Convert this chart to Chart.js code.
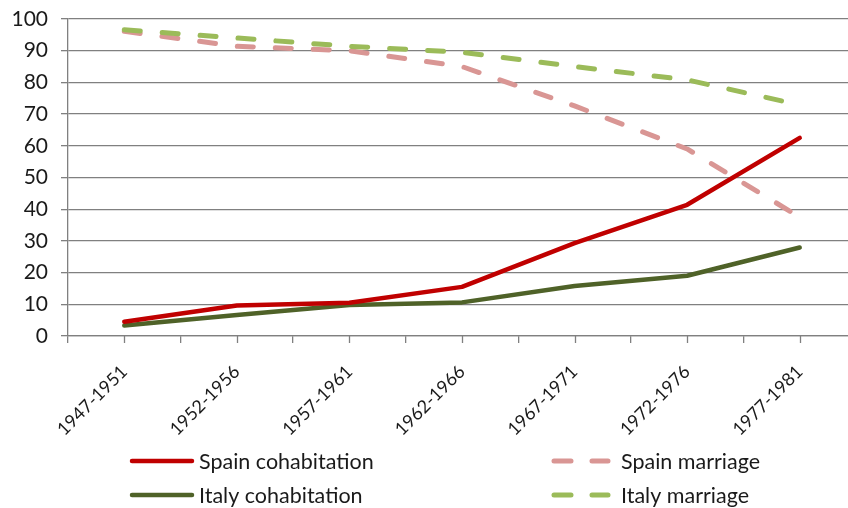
<!DOCTYPE html>
<html>
<head>
<meta charset="utf-8">
<title>Cohabitation and marriage by birth cohort</title>
<script src="https://cdn.jsdelivr.net/npm/chart.js@4.4.1/dist/chart.umd.min.js"></script>
<style>
    html, body { margin: 0; padding: 0; background: #fff; overflow: hidden; }
    #wrap { width: 848px; height: 508px; overflow: hidden; position: relative; }
    canvas { display: block; }
</style>
</head>
<body>
<div id="wrap"><canvas id="cohortChart" width="860" height="508"></canvas></div>
<script>
// Birth cohorts and share (%) of first unions
const cohorts = ['1947-1951', '1952-1956', '1957-1961', '1962-1966', '1967-1971', '1972-1976', '1977-1981'];
const spainCohabitation = [4.5, 9.6, 10.5, 15.5, 29.3, 41.4, 62.5];
const italyCohabitation = [3.3, 6.6, 9.8, 10.6, 15.8, 19.0, 27.9];
const spainMarriage = [96.1, 91.4, 90.0, 85.0, 72.6, 59.0, 37.5];
const italyMarriage = [96.6, 94.0, 91.4, 89.5, 85.0, 80.8, 72.9];
const yTicks = [0, 10, 20, 30, 40, 50, 60, 70, 80, 90, 100];

const FONT = 'Lato, "DejaVu Sans", sans-serif';
const TEXT = '#1a1a1a';
const GRID = '#808080';

// legend drawn as a 2x2 grid: left column solid lines, right column dashed
const legendOrder = ['Spain cohabitation', 'Spain marriage', 'Italy cohabitation', 'Italy marriage'];
const legendCols = [130, 552];
const legendRows = [461, 495];

const gridLegend = {
    id: 'gridLegend',
    afterDraw(chart) {
        const ctx = chart.ctx;
        legendOrder.forEach((name, i) => {
            const ds = chart.data.datasets.find(d => d.label === name);
            const x = legendCols[i % 2];
            const y = legendRows[Math.floor(i / 2)];
            ctx.save();
            ctx.strokeStyle = ds.borderColor;
            ctx.lineWidth = ds.borderWidth;
            ctx.lineCap = 'round';
            ctx.beginPath();
            if (ds.borderDash) {
                ctx.moveTo(x + 2, y); ctx.lineTo(x + 19, y);
                ctx.moveTo(x + 40, y); ctx.lineTo(x + 56, y);
            } else {
                ctx.moveTo(x + 2, y); ctx.lineTo(x + 62, y);
            }
            ctx.stroke();
            ctx.fillStyle = TEXT;
            ctx.font = '21.5px ' + FONT;
            ctx.textBaseline = 'middle';
            ctx.fillText(ds.label, x + 69, y + 1);
            ctx.restore();
        });
    }
};

// extra tick marks under each category centre
const centerTicks = {
    id: 'centerTicks',
    afterDraw(chart) {
        const ctx = chart.ctx;
        const xs = chart.scales.x;
        const bottom = chart.chartArea.bottom;
        ctx.save();
        ctx.strokeStyle = GRID;
        ctx.lineWidth = 1.3;
        cohorts.forEach((c, i) => {
            const px = Math.round(xs.getPixelForValue(i)) + 0.5;
            ctx.beginPath();
            ctx.moveTo(px, bottom);
            ctx.lineTo(px, bottom + 7);
            ctx.stroke();
        });
        ctx.restore();
    }
};

function series(label, data, color, dashed) {
    const ds = {
        label: label,
        data: data,
        borderColor: color,
        backgroundColor: color,
        borderWidth: dashed ? 5 : 4.5,
        pointRadius: 0,
        pointHoverRadius: 0,
        tension: 0,
        fill: false,
        borderCapStyle: 'round',
        borderJoinStyle: 'round'
    };
    if (dashed) ds.borderDash = [16, 22];
    return ds;
}

new Chart(document.getElementById('cohortChart'), {
    type: 'line',
    data: {
        labels: cohorts,
        datasets: [
            series('Italy marriage', italyMarriage, '#9bbb59', true),
            series('Spain marriage', spainMarriage, '#d99694', true),
            series('Spain cohabitation', spainCohabitation, '#c00000', false),
            series('Italy cohabitation', italyCohabitation, '#4f6228', false)
        ]
    },
    options: {
        responsive: false,
        animation: false,
        events: [],
        layout: { padding: { top: 19, right: 4, bottom: 52, left: 0 } },
        plugins: {
            legend: { display: false },
            tooltip: { enabled: false }
        },
        scales: {
            x: {
                offset: true,
                grid: {
                    offset: true,
                    drawOnChartArea: false,
                    drawTicks: true,
                    tickLength: 7,
                    color: GRID,
                    lineWidth: 1.3
                },
                border: { display: true, color: GRID, width: 1.3 },
                ticks: {
                    color: TEXT,
                    font: { family: FONT, size: 18 },
                    maxRotation: 45,
                    minRotation: 45,
                    padding: 18,
                    autoSkip: false
                },
                afterFit(scale) { scale.height = 120; }
            },
            y: {
                min: 0,
                max: 100,
                afterBuildTicks(scale) { scale.ticks = yTicks.map(v => ({ value: v })); },
                grid: {
                    color: GRID,
                    lineWidth: 1.3,
                    tickLength: 7,
                    drawTicks: true
                },
                border: { display: true, color: GRID, width: 1.3 },
                ticks: {
                    color: TEXT,
                    font: { family: FONT, size: 21 },
                    padding: 13
                },
                afterFit(scale) {
                    scale.width = 68;
                    scale.paddingTop = 0;
                    scale.paddingBottom = 0;
                }
            }
        }
    },
    plugins: [centerTicks, gridLegend]
});
</script>
</body>
</html>
